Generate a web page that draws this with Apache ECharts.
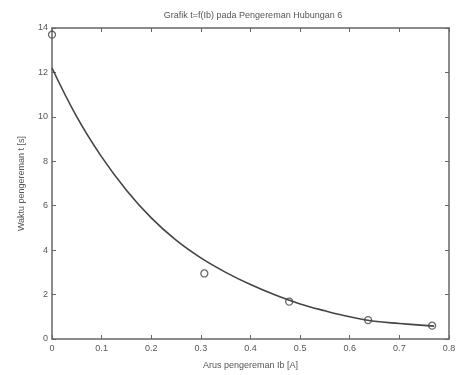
<!DOCTYPE html>
<html>
<head>
<meta charset="utf-8">
<script src="https://cdn.jsdelivr.net/npm/echarts@6/dist/echarts.min.js"></script>
<style>html,body{margin:0;padding:0;background:#fff}#c{width:464px;height:375px}</style>
</head>
<body>
<div id="c"></div>
<script>
const titleText = 'Grafik t=f(Ib) pada Pengereman Hubungan 6';
const xLabel = 'Arus pengereman Ib [A]';
const yLabel = 'Waktu pengereman t [s]';
const measX = [0, 0.307, 0.478, 0.637, 0.766];
const measY = [13.7, 2.95, 1.68, 0.85, 0.6];
const fitX = [0, 0.05, 0.1, 0.15, 0.2, 0.25, 0.3, 0.35, 0.4, 0.45, 0.5, 0.55, 0.6, 0.65, 0.7, 0.77];
const fitY = [12.2, 10.0, 8.2, 6.7, 5.45, 4.45, 3.65, 3.0, 2.45, 1.98, 1.58, 1.27, 1.0, 0.8, 0.7, 0.58];
const xTicks = [0, 0.1, 0.2, 0.3, 0.4, 0.5, 0.6, 0.7, 0.8];
const yTicks = [0, 2, 4, 6, 8, 10, 12, 14];

const axisCol = '#666';
const txt = '#555';
const font = 'Liberation Sans, Arial, sans-serif';
const chart = echarts.init(document.getElementById('c'));
const axBase = () => ({
  axisLine: {show: true, onZero: false, lineStyle: {color: axisCol, width: 1.5}},
  axisTick: {show: true, inside: true, length: 4, lineStyle: {color: axisCol}},
  splitLine: {show: false}
});
chart.setOption({
  animation: false,
  title: {text: titleText, left: 248, top: 6, textAlign: 'center',
    textStyle: {fontSize: 9, fontWeight: 'normal', color: txt, fontFamily: font}},
  grid: {left: 52, right: 15, top: 28, bottom: 36},
  xAxis: [
    Object.assign({type: 'value', min: 0, max: 0.8, interval: 0.1, position: 'bottom',
      name: xLabel, nameLocation: 'middle', nameGap: 22,
      nameTextStyle: {fontSize: 9, color: txt, fontFamily: font},
      axisLabel: {fontSize: 9, color: txt, fontFamily: font, margin: 5,
        formatter: v => { const t = xTicks.find(k => Math.abs(k - v) < 1e-6); return t === undefined ? '' : String(t); }}}, axBase()),
    Object.assign({type: 'value', min: 0, max: 0.8, interval: 0.1, position: 'top', axisLabel: {show: false}}, axBase())
  ],
  yAxis: [
    Object.assign({type: 'value', min: 0, max: 14, interval: 2, position: 'left',
      name: yLabel, nameLocation: 'middle', nameGap: 26,
      nameTextStyle: {fontSize: 9, color: txt, fontFamily: font},
      axisLabel: {fontSize: 9, color: txt, fontFamily: font, margin: 4,
        formatter: v => { const t = yTicks.find(k => Math.abs(k - v) < 1e-6); return t === undefined ? '' : String(t); }}}, axBase()),
    Object.assign({type: 'value', min: 0, max: 14, interval: 2, position: 'right', axisLabel: {show: false}}, axBase())
  ],
  series: [
    {type: 'line', data: fitX.map((x, i) => [x, fitY[i]]), smooth: 0.4, showSymbol: false,
      lineStyle: {color: '#444', width: 1.6}, clip: false},
    {type: 'scatter', data: measX.map((x, i) => [x, measY[i]]), symbol: 'circle', symbolSize: 7,
      itemStyle: {color: 'rgba(255,255,255,0)', borderColor: '#444', borderWidth: 1.3}, clip: false}
  ]
});
</script>
</body>
</html>
